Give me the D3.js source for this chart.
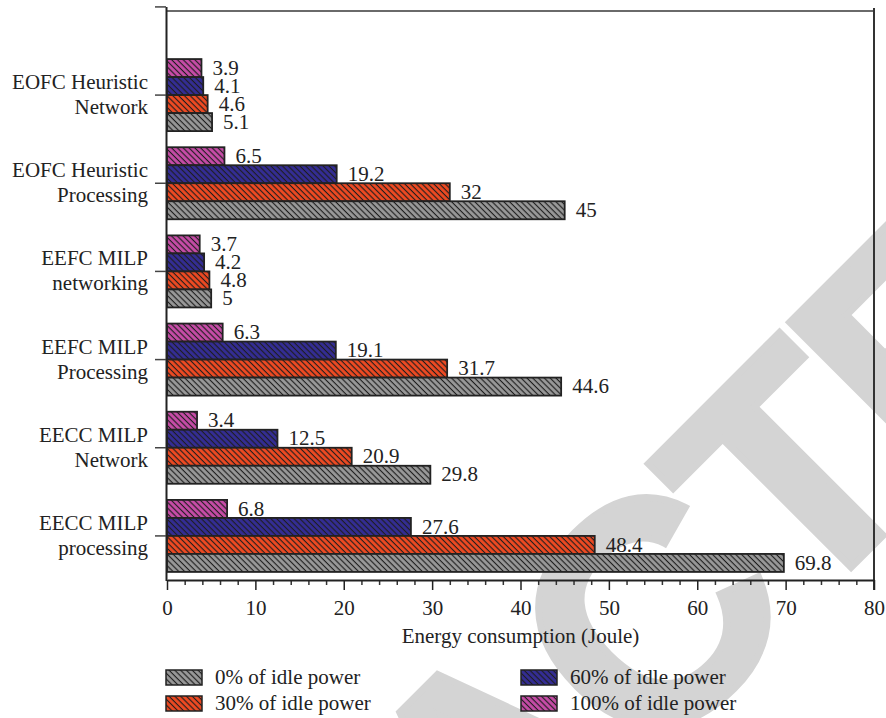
<!DOCTYPE html>
<html>
<head>
<meta charset="utf-8">
<script src="https://cdn.jsdelivr.net/npm/d3@7"></script>
<style>
  html, body { margin: 0; padding: 0; background: #fff; }
  svg { display: block; }
  text { font-family: "Liberation Serif", "Times New Roman", serif; fill: #222; }
</style>
</head>
<body>
<svg id="chart" width="886" height="718"></svg>
<script>
// ---- data ----
const categories = [
  ["EOFC Heuristic", "Network"],
  ["EOFC Heuristic", "Processing"],
  ["EEFC MILP", "networking"],
  ["EEFC MILP", "Processing"],
  ["EECC MILP", "Network"],
  ["EECC MILP", "processing"]
];
const seriesNames = ["100% of idle power", "60% of idle power", "30% of idle power", "0% of idle power"];
const idle100 = [3.9, 6.5, 3.7, 6.3, 3.4, 6.8];
const idle60  = [4.1, 19.2, 4.2, 19.1, 12.5, 27.6];
const idle30  = [4.6, 32, 4.8, 31.7, 20.9, 48.4];
const idle0   = [5.1, 45, 5, 44.6, 29.8, 69.8];
const seriesValues = [idle100, idle60, idle30, idle0];
const seriesColors = ["#c84ca8", "#342d95", "#f04a22", "#999999"];
const xTicks = [0, 10, 20, 30, 40, 50, 60, 70, 80];
const legendOrder = ["0% of idle power", "30% of idle power", "60% of idle power", "100% of idle power"];
const xTitle = "Energy consumption (Joule)";
const watermark = "RETRACTED";

// ---- drawing ----
const FS = "21px";
const svg = d3.select("#chart");
const defs = svg.append("defs");
seriesColors.forEach((c, i) => {
  const p = defs.append("pattern")
    .attr("id", "hatch" + i)
    .attr("patternUnits", "userSpaceOnUse")
    .attr("width", 4.1).attr("height", 10)
    .attr("patternTransform", "rotate(-45)");
  p.append("rect").attr("width", 4.1).attr("height", 10).attr("fill", c);
  p.append("line").attr("x1", 2).attr("x2", 2).attr("y1", 0).attr("y2", 10)
    .attr("stroke", "#1e1e1e").attr("stroke-width", 1.15);
});

// watermark (behind the chart)
svg.append("text")
  .attr("transform", "translate(-86.5,1505) rotate(-45)")
  .attr("text-anchor", "start")
  .style("font-family", "'Liberation Sans', Arial, sans-serif")
  .style("font-weight", "bold")
  .style("font-size", "315px")
  .style("letter-spacing", "-10px")
  .style("fill", "#d4d4d4")
  .style("stroke", "#d4d4d4")
  .style("stroke-width", 7)
  .style("stroke-linejoin", "miter")
  .text(watermark);

const x = d3.scaleLinear().domain([0, 80]).range([167, 874]);
const catIdx = categories.map((d, i) => i);
const y = d3.scaleBand().domain(catIdx).range([51, 580]).paddingInner(0.183).paddingOuter(0.0915);
const yInner = d3.scaleBand().domain(d3.range(seriesNames.length)).range([0, y.bandwidth()]);
const step = y.step();
const axisY = 580;

// top and right frame
svg.append("line").attr("x1", x(0)).attr("x2", x(80)).attr("y1", 11).attr("y2", 11)
  .attr("stroke", "#6a6a6a").attr("stroke-width", 2);
svg.append("line").attr("x1", x(80)).attr("x2", x(80)).attr("y1", 8).attr("y2", axisY + 10)
  .attr("stroke", "#333").attr("stroke-width", 2);

// bars
const groups = svg.append("g").selectAll("g").data(catIdx).join("g")
  .attr("transform", d => `translate(0,${y(d)})`);
groups.selectAll("rect").data(ci => seriesValues.map((s, si) => ({ si, v: s[ci] }))).join("rect")
  .attr("x", x(0))
  .attr("y", d => yInner(d.si))
  .attr("width", d => x(d.v) - x(0))
  .attr("height", yInner.bandwidth())
  .attr("fill", d => `url(#hatch${d.si})`)
  .attr("stroke", "#222").attr("stroke-width", 1.8);
groups.selectAll("text.val").data(ci => seriesValues.map((s, si) => ({ si, v: s[ci] }))).join("text")
  .attr("class", "val")
  .attr("x", d => x(d.v) + 11)
  .attr("y", d => yInner(d.si) + yInner.bandwidth() / 2)
  .attr("dy", "0.32em")
  .style("font-size", FS)
  .text(d => d3.format("")(d.v));

// left axis
const centers = catIdx.map(i => y(i) + y.bandwidth() / 2);
const ticksY = [centers[0] - step].concat(centers);
svg.append("line").attr("x1", 166.5).attr("x2", 166.5).attr("y1", ticksY[0]).attr("y2", axisY + 1)
  .attr("stroke", "#222").attr("stroke-width", 2);
svg.append("g").selectAll("line").data(ticksY).join("line")
  .attr("x1", 155).attr("x2", 166).attr("y1", d => d).attr("y2", d => d)
  .attr("stroke", "#444").attr("stroke-width", 1.5);
const labels = svg.append("g").selectAll("text").data(catIdx).join("text")
  .attr("text-anchor", "end")
  .style("font-size", FS);
labels.append("tspan").attr("x", 148).attr("y", d => centers[d] - 6).text(d => categories[d][0]);
labels.append("tspan").attr("x", 148).attr("y", d => centers[d] + 19).text(d => categories[d][1]);

// bottom axis
const minor = d3.range(0, 81, 2).filter(v => v % 10 !== 0);
svg.append("g").attr("transform", `translate(0,${axisY})`)
  .call(d3.axisBottom(x).tickValues(minor).tickSize(5).tickFormat(""))
  .call(g => g.select(".domain").remove())
  .call(g => g.selectAll("line").attr("stroke", "#333").attr("stroke-width", 1.5));
const xa = svg.append("g").attr("transform", `translate(0,${axisY})`)
  .call(d3.axisBottom(x).tickValues(xTicks).tickSize(10).tickPadding(10).tickSizeOuter(0));
xa.select(".domain").attr("stroke", "#222").attr("stroke-width", 2);
xa.selectAll(".tick line").attr("stroke", "#222").attr("stroke-width", 1.5);
xa.selectAll(".tick text").style("font-family", "'Liberation Serif', serif").style("font-size", FS).attr("fill", "#222");

svg.append("text").attr("x", (x(0) + x(80)) / 2).attr("y", 643)
  .attr("text-anchor", "middle").style("font-size", FS).text(xTitle);

// legend
const legendPos = [[166, 670], [166, 696], [521, 670], [521, 696]];
const lg = svg.append("g").selectAll("g").data(legendOrder).join("g")
  .attr("transform", (d, i) => `translate(${legendPos[i][0]},${legendPos[i][1]})`);
lg.append("rect").attr("width", 36).attr("height", 15)
  .attr("fill", d => `url(#hatch${seriesNames.indexOf(d)})`)
  .attr("stroke", "#222").attr("stroke-width", 1.5);
lg.append("text").attr("x", 49).attr("y", 13.5).style("font-size", FS).text(d => d);
</script>
</body>
</html>
